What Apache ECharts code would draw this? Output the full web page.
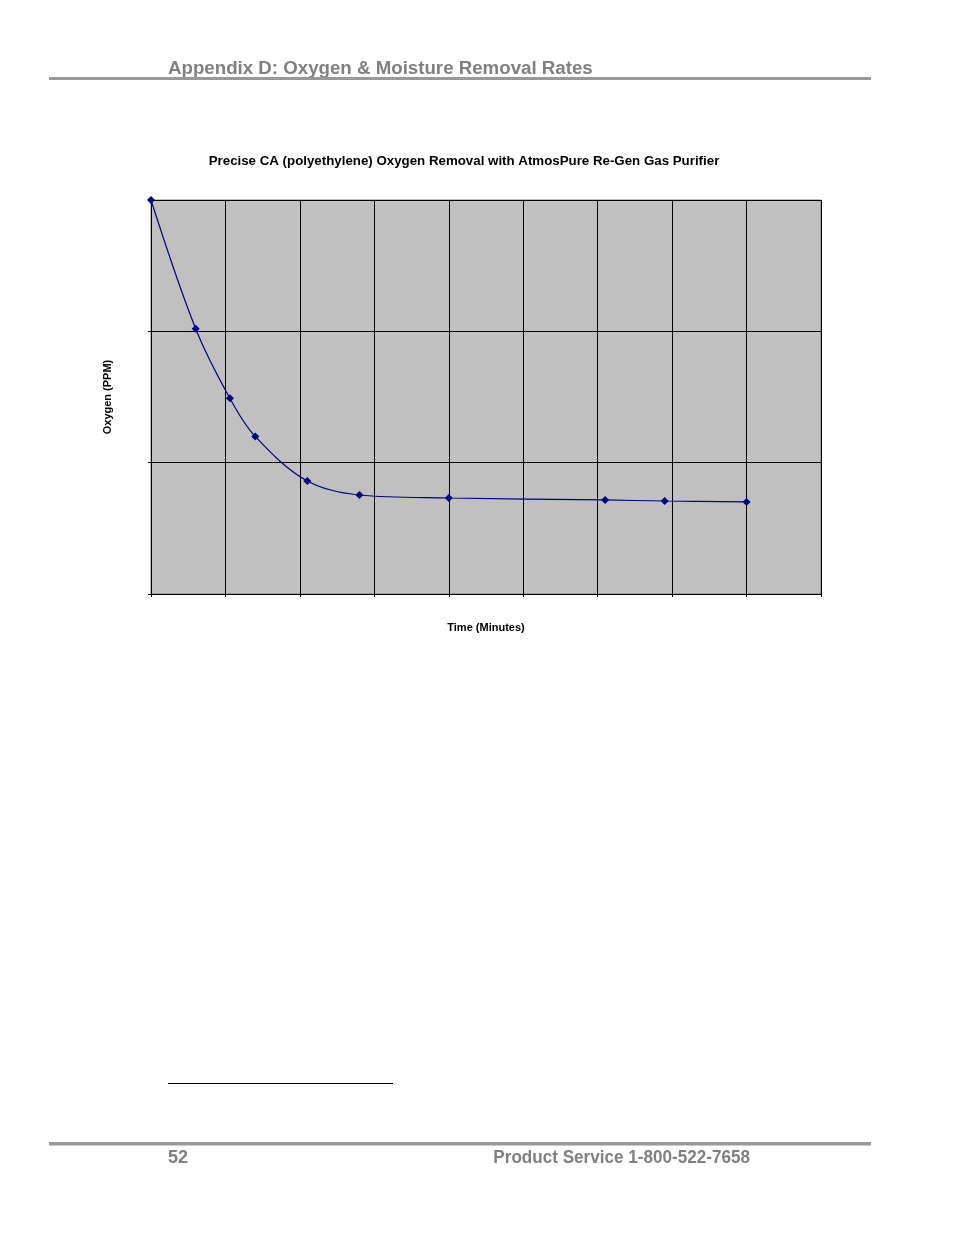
<!DOCTYPE html>
<html>
<head>
<meta charset="utf-8">
<script src="https://cdn.jsdelivr.net/npm/echarts@6/dist/echarts.min.js"></script>
<style>
  html, body { margin: 0; padding: 0; background: #fff; }
  #page { width: 954px; height: 1235px; }
</style>
</head>
<body>
<div id="page"></div>
<script>
// time in minutes, oxygen in ppm (no tick labels in original)
const timeMin = [0, 6, 10.6, 14, 21, 28, 40, 61, 69, 80]
const oxygen = [300, 202, 149, 120, 86, 75.4, 73.1, 71.6, 70.8, 70.1]
const xMax = 90
const yMax = 300

function draw() {
    const chart = echarts.init(document.getElementById('page'))
    chart.setOption(getOptions())
}

function getOptions() {
    const points = timeMin.map((t, i) => [t, oxygen[i]])
    const font = 'Arial, "Liberation Sans", sans-serif'

    return {
        animation: false,
        backgroundColor: '#fff',
        title: {
            text: 'Precise CA (polyethylene) Oxygen Removal with AtmosPure Re-Gen Gas Purifier',
            left: 459,
            top: 150,
            textAlign: 'center',
            textStyle: { fontSize: 13.3, fontWeight: 'bold', color: '#000', fontFamily: font }
        },
        grid: {
            left: 151,
            top: 200,
            width: 670,
            height: 394,
            show: true,
            backgroundColor: '#c0c0c0',
            borderColor: '#808080',
            borderWidth: 1
        },
        xAxis: {
            type: 'value',
            min: 0,
            max: xMax,
            interval: 10,
            name: 'Time (Minutes)',
            nameLocation: 'middle',
            nameGap: 28,
            nameTextStyle: { fontSize: 11, fontWeight: 'bold', color: '#000', fontFamily: font },
            axisLine: { show: true, lineStyle: { color: '#000', width: 1 } },
            axisTick: { show: true, length: 3, lineStyle: { color: '#000' } },
            axisLabel: { show: false },
            splitLine: { show: true, lineStyle: { color: '#000', width: 1 } }
        },
        yAxis: {
            type: 'value',
            min: 0,
            max: yMax,
            interval: 100,
            name: 'Oxygen (PPM)',
            nameLocation: 'middle',
            nameGap: 38,
            nameRotate: 90,
            nameTextStyle: { fontSize: 11, fontWeight: 'bold', color: '#000', fontFamily: font },
            axisLine: { show: true, lineStyle: { color: '#000', width: 1 } },
            axisTick: { show: true, length: 3, lineStyle: { color: '#000' } },
            axisLabel: { show: false },
            splitLine: { show: true, lineStyle: { color: '#000', width: 1 } }
        },
        series: [
            {
                type: 'line',
                data: points,
                smooth: 0.35,
                symbol: 'diamond',
                symbolSize: 8,
                lineStyle: { color: '#000080', width: 1.2 },
                itemStyle: { color: '#000080' }
            }
        ],
        graphic: [
            // page header
            {
                type: 'text', left: 168, top: 59,
                style: { text: 'Appendix D: Oxygen & Moisture Removal Rates', fill: '#808080', font: 'bold 18.7px ' + font }
            },
            {
                type: 'rect', shape: { x: 49, y: 77, width: 822, height: 3 },
                style: { fill: '#999999' }
            },
            // footnote rule
            {
                type: 'rect', shape: { x: 168, y: 1083, width: 225, height: 1 },
                style: { fill: '#000' }
            },
            // page footer
            {
                type: 'rect', shape: { x: 49, y: 1142, width: 822, height: 3.5 },
                style: { fill: '#999999' }
            },
            {
                type: 'text', left: 168, top: 1149,
                style: { text: '52', fill: '#808080', font: 'bold 18px ' + font }
            },
            {
                type: 'text', x: 750, y: 1149,
                scaleX: 0.95,
                style: { text: 'Product Service 1-800-522-7658', fill: '#808080', font: 'bold 18px ' + font, align: 'right' }
            }
        ]
    }
}

draw()
</script>
</body>
</html>
